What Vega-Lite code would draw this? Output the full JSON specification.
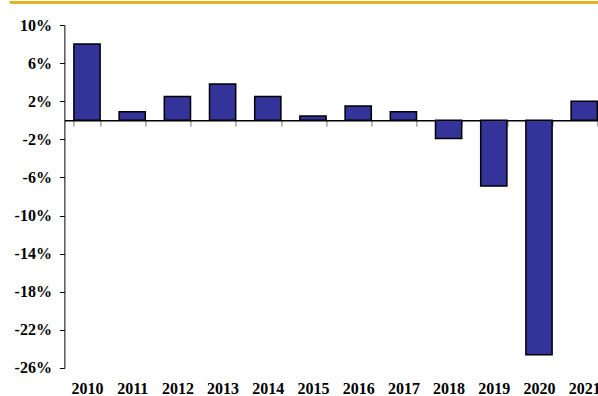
{
  "$schema": "https://vega.github.io/schema/vega-lite/v6.json",
  "width": 542.4,
  "height": 343,
  "autosize": {"type": "none"},
  "padding": {"left": 64.4, "top": 25, "right": 0, "bottom": 28},
  "config": {"view": {"stroke": null}, "font": "Liberation Serif"},
  "data": {"values": [
    {"year": "2010", "value": 8.0},
    {"year": "2011", "value": 0.9},
    {"year": "2012", "value": 2.5},
    {"year": "2013", "value": 3.8},
    {"year": "2014", "value": 2.5},
    {"year": "2015", "value": 0.45},
    {"year": "2016", "value": 1.5},
    {"year": "2017", "value": 0.9},
    {"year": "2018", "value": -1.9},
    {"year": "2019", "value": -6.9},
    {"year": "2020", "value": -24.6},
    {"year": "2021", "value": 2.0}
  ]},
  "layer": [
    {
      "mark": {"type": "bar", "color": "#333399", "stroke": "#000000", "strokeWidth": 1.5},
      "encoding": {
        "x": {
          "field": "year", "type": "ordinal",
          "scale": {"paddingInner": 0.42, "paddingOuter": 0.21},
          "axis": {
            "orient": "bottom", "offset": -247.7, "title": null,
            "domain": true, "domainColor": "#000000", "domainWidth": 1.5,
            "ticks": true, "tickBand": "extent", "tickSize": 6, "tickColor": "#777777", "tickWidth": 1,
            "labelAngle": 0, "labelPadding": 254, "labelFontSize": 16, "labelFontWeight": "bold",
            "labelColor": "#000000", "labelFont": "Liberation Serif", "labelOverlap": false
          }
        },
        "y": {
          "field": "value", "type": "quantitative",
          "scale": {"domain": [-26, 10], "nice": false, "zero": false},
          "axis": {
            "values": [-26, -22, -18, -14, -10, -6, -2, 2, 6, 10],
            "tickCount": 20,
            "labelExpr": "datum.value + '%'",
            "title": null, "grid": false, "labelOverlap": false, "labelFlush": false,
            "domain": true, "domainColor": "#000000", "domainWidth": 1,
            "ticks": true, "tickSize": 5, "tickColor": "#000000",
            "labelPadding": 8, "labelFontSize": 16, "labelFontWeight": "bold",
            "labelColor": "#000000", "labelFont": "Liberation Serif"
          }
        }
      }
    },
    {
      "mark": {"type": "rule", "color": "#E2B420", "strokeWidth": 2.2, "clip": false},
      "encoding": {
        "y": {"datum": 12.4, "type": "quantitative"},
        "x": {"datum": "2010", "type": "ordinal", "bandPosition": -2.44},
        "x2": {"datum": "2021", "bandPosition": 1.4}
      }
    }
  ]
}
